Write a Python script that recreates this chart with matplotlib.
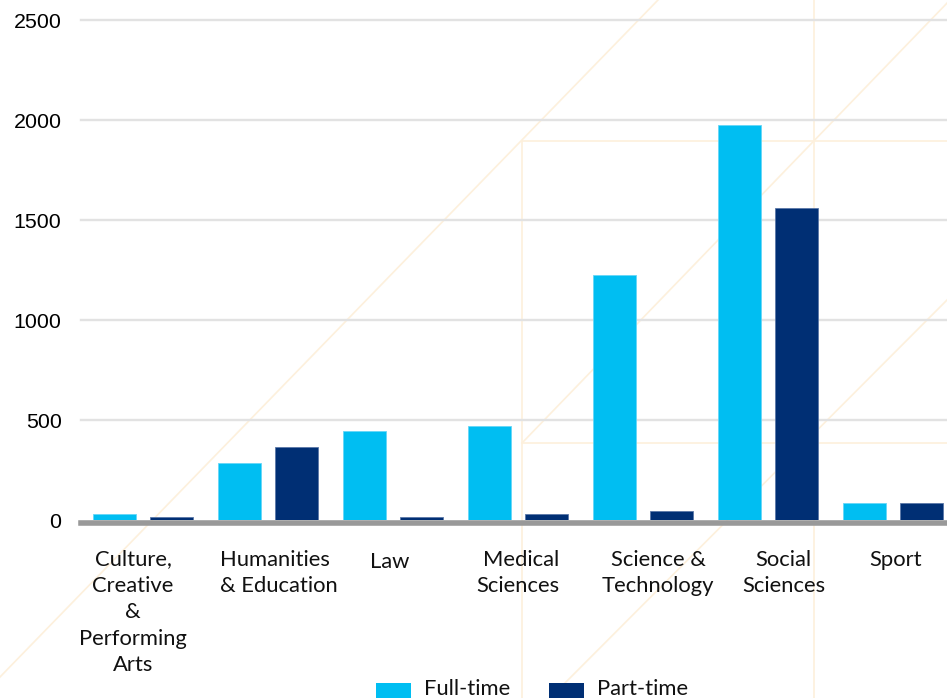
import matplotlib
matplotlib.use("Agg")
import matplotlib.pyplot as plt
from matplotlib.lines import Line2D
from matplotlib.patches import Rectangle
import numpy as np

# Student numbers by faculty
categories = [
    "Culture,\nCreative\n&\nPerforming\nArts",
    "Humanities\n& Education",
    "Law",
    "Medical\nSciences",
    "Science &\nTechnology",
    "Social\nSciences",
    "Sport",
]
full_time = [30, 285, 445, 470, 1225, 1975, 85]
part_time = [15, 365, 15, 30, 45, 1560, 85]
y_ticks = [0, 500, 1000, 1500, 2000, 2500]
series_names = ["Full-time", "Part-time"]

FT_COLOR = "#00bef2"
PT_COLOR = "#002f74"
GRID_COLOR = "#e2e2e2"
BASE_COLOR = "#999999"
DECO_COLOR = "#fdf0dc"
LABEL_FONT = ["Lato", "DejaVu Sans"]
TICK_FONT = ["Liberation Sans", "DejaVu Sans"]

W, H = 947, 698
fig = plt.figure(figsize=(W / 100, H / 100), dpi=100)
fig.patch.set_facecolor("white")


def fp(x, y):
    """pixel (from top-left) -> figure fraction"""
    return x / W, 1 - y / H


# faint decorative background lines
deco = [
    ((0, 677), (658, 0)),
    ((522, 443), (950, 0)),
    ((550, 698), (947, 300)),
    ((522, 141), (522, 698)),
    ((814, 0), (814, 698)),
    ((522, 141), (947, 141)),
    ((522, 443), (947, 443)),
]
for (x0, y0), (x1, y1) in deco:
    a, b = fp(x0, y0)
    c, d = fp(x1, y1)
    fig.add_artist(Line2D([a, c], [b, d], color=DECO_COLOR, lw=1.2,
                          zorder=-5, transform=fig.transFigure))

ax_left, ax_bottom = 81, 520
group_px = 124.9
n = len(categories)
ax = fig.add_axes([ax_left / W, (H - ax_bottom) / H, group_px * n / W, 500 / H])
ax.patch.set_alpha(0)

x = np.arange(n)
bw = 0.344
off = 0.228
ax.bar(x - off, full_time, bw, color=FT_COLOR, edgecolor="#66d6f7",
       linewidth=0.6, zorder=3)
ax.bar(x + off, part_time, bw, color=PT_COLOR, edgecolor="#5a78a8",
       linewidth=0.6, zorder=3)

ax.set_xlim(-0.5, n - 0.5)
ax.set_ylim(0, 2500)
ax.set_yticks(y_ticks)
ax.set_yticklabels([str(v) for v in y_ticks], fontfamily=TICK_FONT,
                   fontsize=15.4, color="black")
ax.tick_params(axis="y", length=0, pad=14)
ax.set_xticks([])
for s in ax.spines.values():
    s.set_visible(False)

for v in y_ticks[1:]:
    ax.axhline(v, color=GRID_COLOR, lw=1.7, zorder=1, clip_on=False)
# thick baseline under the bars
ax.axhline(-16.5, color=BASE_COLOR, lw=4.0, zorder=2, clip_on=False)

# category labels under each group
label_dx = [-10.5, 10.6, -3.3, -0.7, 15, 15.5, 2.6]
label_dy = [0, 0, 3, 0, 0, 0, 0]
label_align = ["center", "left", "center", "right", "center", "center", "center"]
for i, lab in enumerate(categories):
    cx = ax_left + group_px * (i + 0.5) + label_dx[i]
    fx, fy = fp(cx, 549.5 + label_dy[i])
    fig.text(fx, fy, lab, ha="center", va="top", multialignment=label_align[i],
             fontfamily=LABEL_FONT, fontsize=15.8, linespacing=1.4,
             color="#111111")

# legend at the bottom edge
legend_items = [(376, FT_COLOR, 424), (549, PT_COLOR, 597)]
for (px, col, tx), name in zip(legend_items, series_names):
    x0, y0 = fp(px, 704)
    fig.add_artist(Rectangle((x0, y0), 35 / W, 21 / H, transform=fig.transFigure,
                             facecolor=col, edgecolor="none"))
    tx0, ty0 = fp(tx, 695)
    fig.text(tx0, ty0, name, ha="left", va="baseline", fontfamily=LABEL_FONT,
             fontsize=15.8, color="#111111")

fig.savefig("out.png", dpi=100)
